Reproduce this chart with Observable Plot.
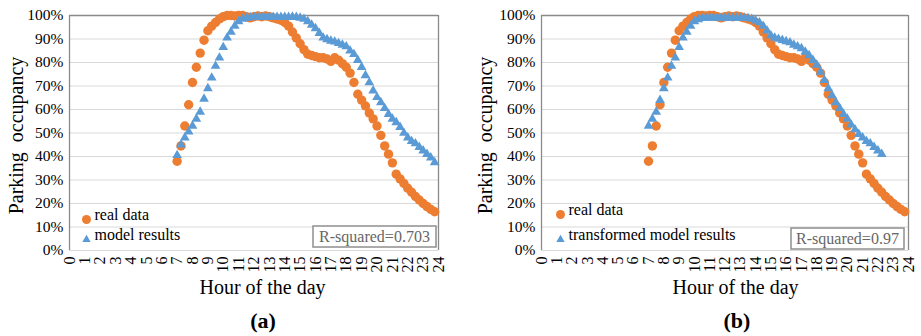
<!DOCTYPE html>
<html>
<head>
<meta charset="utf-8">
<script src="https://cdn.jsdelivr.net/npm/d3@7"></script>
<script src="https://cdn.jsdelivr.net/npm/@observablehq/plot@0.6"></script>
<style>
  html, body { margin: 0; padding: 0; background: #fff; }
  body { font-family: "Liberation Serif", "Times New Roman", serif; }
  #figure { position: relative; width: 921px; height: 336px; display: flex; }
  .panel { position: relative; }
  .panel svg { display: block; }
  .panel svg text { font-family: "Liberation Serif", "Times New Roman", serif !important; }
  .caption {
    position: absolute; top: 307px; width: 60px; text-align: center;
    font-weight: bold; font-size: 22px; line-height: 28px; color: #000;
  }
</style>
</head>
<body>
<div id="figure"></div>
<script>
// Quarter-hour sampling times (hour of the day)
const hours = [
  7, 7.25, 7.5, 7.75, 8, 8.25, 8.5, 8.75, 9, 9.25, 9.5, 9.75,
  10, 10.25, 10.5, 10.75, 11, 11.25, 11.5, 11.75, 12, 12.25, 12.5, 12.75,
  13, 13.25, 13.5, 13.75, 14, 14.25, 14.5, 14.75, 15, 15.25, 15.5, 15.75,
  16, 16.25, 16.5, 16.75, 17, 17.25, 17.5, 17.75, 18, 18.25, 18.5, 18.75,
  19, 19.25, 19.5, 19.75, 20, 20.25, 20.5, 20.75, 21, 21.25, 21.5, 21.75,
  22, 22.25, 22.5, 22.75, 23, 23.25, 23.5, 23.75
];

// Observed parking occupancy (%)
const realData = [
  38, 44.5, 53, 62, 71.5, 78, 84, 89.5, 93.5, 95.5, 97, 98.5,
  99.5, 100, 100, 99.8, 100, 100, 99.5, 99, 99.5, 99.8, 99.5, 99.8,
  99.5, 99, 98.5, 98, 97, 95.5, 93, 90.5, 88, 85.5, 83.5, 83,
  82.5, 82, 82, 81.5, 80.5, 82, 81, 79.5, 78, 75.5, 71.5, 66.5,
  64, 61.5, 58.5, 56, 53, 49, 44.5, 41, 37.3, 32.5, 30.5, 28.5,
  26.5, 24.8, 23, 21.5, 20, 18.7, 17.5, 16.5
];

// Model output (%)
const modelResults = [
  40.5, 45, 48, 50.5, 53, 56, 59, 64.5, 69, 73.5, 78.5, 82,
  86.5, 90.5, 93, 95.5, 97.5, 98.5, 99, 99.2, 99.3, 99.3, 99.3, 99.3,
  99.3, 99.3, 99.3, 99.3, 99.3, 99.3, 99.4, 99.3, 99, 98.5, 97.5, 96,
  94.5, 92.5, 90.5, 89.8, 89.2, 88.8, 88.2, 87.5, 86.8, 85, 83.5, 81,
  78, 74.5, 71.5, 68, 65.2, 63, 60.5, 58, 56, 54.5, 52.5, 50,
  48, 46.5, 45.5, 44, 42.5, 41, 39.5, 37.5
];

// Transformed model output (%), 7:00 to 22:15
const transformedResults = [
  53, 56, 59, 64, 69, 73.5, 78.5, 82, 86.5, 90.5, 93, 95.5,
  97.5, 98.3, 98.8, 99, 99, 99, 99, 99, 99, 99, 99, 99,
  99, 99, 98.8, 98.5, 97.8, 97, 95.5, 93.5, 91.5, 90.5, 90, 89.5,
  89, 88.5, 87.5, 86.8, 86, 84.5, 83, 81, 79, 76, 72.5, 69,
  66, 63, 60.5, 58, 56, 53.5, 51.5, 49.5, 48, 46.5, 45.5, 44,
  42.5, 41
];

const hourTicks = [0,1,2,3,4,5,6,7,8,9,10,11,12,13,14,15,16,17,18,19,20,21,22,23,24];
const percentTicks = [0,10,20,30,40,50,60,70,80,90,100];

const ORANGE = "#ED7D31";
const BLUE = "#5B9BD5";
const GRID = "#d9d9d9";
const BORDER = "#8a8a8a";
const FONT = "Liberation Serif";

// Boxed annotation anchored to the bottom-right corner of the frame
function statBox(label, {right, bottom, w, h}) {
  return (index, scales, values, dims) => {
    const fx = dims.width - dims.marginRight;
    const fy = dims.height - dims.marginBottom;
    const g = d3.create("svg:g");
    g.append("rect")
      .attr("x", fx - right - w).attr("y", fy - bottom - h)
      .attr("width", w).attr("height", h)
      .attr("fill", "#fff").attr("stroke", "#8f8f8f").attr("stroke-width", 1.5);
    g.append("text")
      .attr("x", fx - right - w / 2).attr("y", fy - bottom - h / 2)
      .attr("dy", "0.35em").attr("text-anchor", "middle")
      .attr("font-size", 16).attr("fill", "#666")
      .text(label);
    return g.node();
  };
}

function occupancyPanel(cfg) {
  const real = hours.map((h, i) => ({hour: h, value: realData[i]}));
  const model = cfg.model.map((v, i) => ({hour: hours[i], value: v}));
  return Plot.plot({
    width: cfg.width,
    height: 306,
    marginLeft: cfg.marginLeft,
    marginRight: cfg.marginRight,
    marginTop: 15,
    marginBottom: 56,
    style: {fontFamily: FONT, background: "#fff", color: "#000", overflow: "visible"},
    x: {domain: [0, 24]},
    y: {domain: [0, 100]},
    marks: [
      Plot.ruleY(percentTicks.filter(d => d < 100), {stroke: GRID, strokeWidth: 1}),
      Plot.ruleY([100], {stroke: BORDER, strokeWidth: 1.3}),
      Plot.ruleX([0, 24], {stroke: BORDER, strokeWidth: 1.3}),
      Plot.axisY({ticks: percentTicks, tickSize: 0, tickPadding: 6, tickFormat: d => d + "%", fontFamily: FONT, fontSize: 15.5, label: null}),
      Plot.axisX({ticks: hourTicks, tickSize: 0, tickPadding: 6, tickRotate: -90, tickFormat: d => String(d), fontFamily: FONT, fontSize: 16, label: null}),
      Plot.dot(real, {x: "hour", y: "value", r: 4.7, fill: ORANGE}),
      Plot.dot(model, {x: "hour", y: "value", symbol: "triangle", r: 3.6, fill: BLUE}),
      // legend
      Plot.dot([0], {frameAnchor: "bottom-left", dx: cfg.legendDx, dy: cfg.legendDy1, r: 4.5, fill: ORANGE}),
      Plot.dot([0], {frameAnchor: "bottom-left", dx: cfg.legendDx, dy: -11, symbol: "triangle", r: 3.1, fill: BLUE}),
      Plot.text(["real data"], {frameAnchor: "bottom-left", textAnchor: "start", dx: cfg.legendDx + 8, dy: cfg.legendDy1, fontFamily: FONT, fontSize: 16}),
      Plot.text([cfg.modelLabel], {frameAnchor: "bottom-left", textAnchor: "start", dx: cfg.legendDx + 8, dy: -11, fontFamily: FONT, fontSize: 16}),
      statBox(cfg.r2, cfg.box),
      // axis titles
      Plot.text(["Parking  occupancy"], {frameAnchor: "left", textAnchor: "middle", rotate: -90, dx: cfg.titleDx, dy: 2.5, fontFamily: FONT, fontSize: 20}),
      Plot.text(["Hour of the day"], {frameAnchor: "bottom", textAnchor: "middle", dx: cfg.hourDx, dy: 43, fontFamily: FONT, fontSize: 20})
    ]
  });
}

const panels = [
  {
    width: 460, marginLeft: 69, marginRight: 22,
    model: modelResults, modelLabel: "model results", r2: "R-squared=0.703",
    legendDx: 17, legendDy1: -31, titleDx: -53, hourDx: 8.5,
    box: {right: 2, bottom: 3, w: 123, h: 21},
    caption: "(a)", captionCenter: 263
  },
  {
    width: 461, marginLeft: 81, marginRight: 13,
    model: transformedResults, modelLabel: "transformed model results", r2: "R-squared=0.97",
    legendDx: 19, legendDy1: -36, titleDx: -55.5, hourDx: 10.5,
    box: {right: 4, bottom: 1, w: 113, h: 21},
    caption: "(b)", captionCenter: 277
  }
];

const figure = document.getElementById("figure");
for (const cfg of panels) {
  const div = document.createElement("div");
  div.className = "panel";
  div.style.width = cfg.width + "px";
  div.appendChild(occupancyPanel(cfg));
  const cap = document.createElement("div");
  cap.className = "caption";
  cap.style.left = (cfg.captionCenter - 30) + "px";
  cap.textContent = cfg.caption;
  div.appendChild(cap);
  figure.appendChild(div);
}
</script>
</body>
</html>
